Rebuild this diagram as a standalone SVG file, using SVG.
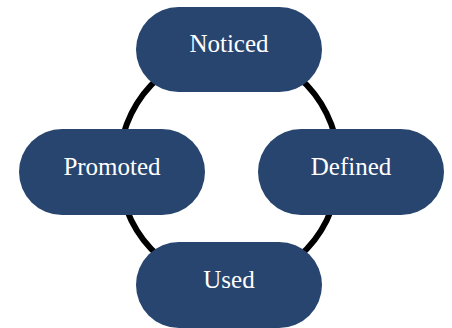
<svg xmlns="http://www.w3.org/2000/svg" width="452" height="328" viewBox="0 0 452 328">
  <style>
    .node rect { fill: #27456f; }
    .node text { fill: #ffffff; font-family: "Liberation Serif", "Times New Roman", serif; font-size: 25px; text-anchor: middle; }
  </style>
  <rect width="452" height="328" fill="#ffffff"/>
  <!-- cycle ring linking the four stages -->
  <g id="connectors">
    <ellipse cx="229" cy="167" rx="110" ry="116" fill="none" stroke="#000000" stroke-width="6"/>
  </g>
  <g id="noticed" class="node">
    <rect x="136" y="7" width="186" height="85" rx="42.5"/>
    <text x="229" y="52">Noticed</text>
  </g>
  <g id="defined" class="node">
    <rect x="258" y="129" width="186" height="86" rx="43"/>
    <text x="351" y="175">Defined</text>
  </g>
  <g id="used" class="node">
    <rect x="136" y="242" width="186" height="86" rx="43"/>
    <text x="229" y="288">Used</text>
  </g>
  <g id="promoted" class="node">
    <rect x="19" y="129" width="186" height="86" rx="43"/>
    <text x="112" y="175">Promoted</text>
  </g>
</svg>
